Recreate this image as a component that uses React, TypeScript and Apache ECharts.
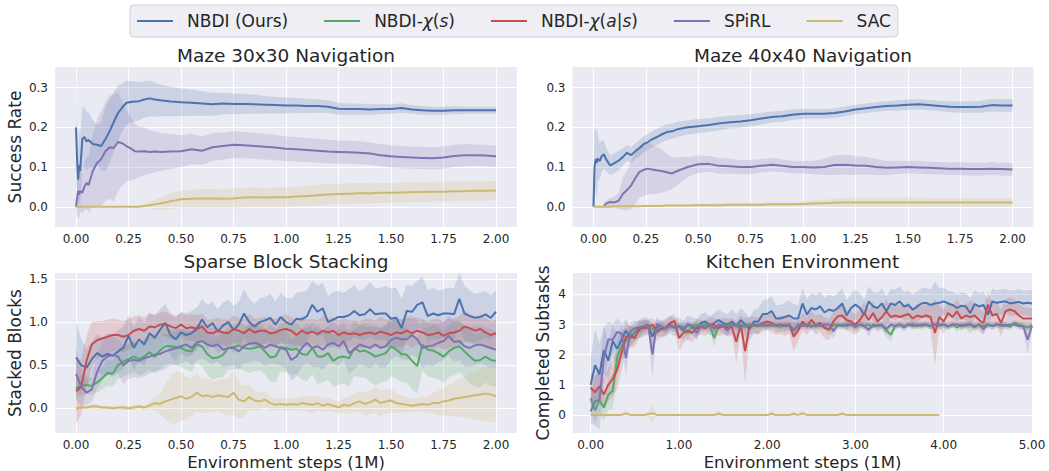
import React, { useEffect, useRef } from 'react';
import * as echarts from 'echarts';

// ---------- names / colours ----------
const SERIES_NAMES = ['NBDI (Ours)', 'NBDI-χ(s)', 'NBDI-χ(a|s)', 'SPiRL', 'SAC'];
const SERIES_COLORS = ['#4C72B0', '#55A868', '#C44E52', '#8172B2', '#CCB974'];
const TITLES = ['Maze 30x30 Navigation', 'Maze 40x40 Navigation', 'Sparse Block Stacking', 'Kitchen Environment'];
const Y_NAMES = ['Success Rate', '', 'Stacked Blocks', 'Completed Subtasks'];
const X_NAME = 'Environment steps (1M)';

// ---------- tick labels ----------
const mazeXTicks = [0, 0.25, 0.5, 0.75, 1.0, 1.25, 1.5, 1.75, 2.0];
const mazeYTicks = [0, 0.1, 0.2, 0.3];
const blockXTicks = [0, 0.25, 0.5, 0.75, 1.0, 1.25, 1.5, 1.75, 2.0];
const blockYTicks = [0, 0.5, 1.0, 1.5];
const kitchenXTicks = [0, 1, 2, 3, 4, 5];
const kitchenYTicks = [0, 1, 2, 3, 4];

// ---------- Maze (x in 1M steps) ----------
const mazeX = [0, 0.005, 0.01, 0.015, 0.02, 0.03, 0.04, 0.05, 0.06, 0.08,
  0.1, 0.12, 0.14, 0.16, 0.18, 0.2, 0.22, 0.24, 0.26, 0.28,
  0.3, 0.325, 0.35, 0.375, 0.4, 0.45, 0.5, 0.55, 0.6, 0.65,
  0.7, 0.75, 0.8, 0.85, 0.9, 0.95, 1.0, 1.05, 1.1, 1.15,
  1.2, 1.25, 1.3, 1.35, 1.4, 1.45, 1.5, 1.55, 1.6, 1.65,
  1.7, 1.75, 1.8, 1.85, 1.9, 1.95, 2.0];

const maze30Nbdi = [0.200, 0.120, 0.068, 0.105, 0.090, 0.170, 0.176, 0.165, 0.168, 0.158,
  0.156, 0.153, 0.170, 0.190, 0.214, 0.236, 0.250, 0.262, 0.264, 0.265,
  0.266, 0.270, 0.273, 0.270, 0.268, 0.265, 0.263, 0.262, 0.260, 0.258,
  0.260, 0.259, 0.259, 0.258, 0.257, 0.256, 0.255, 0.255, 0.254, 0.254,
  0.252, 0.247, 0.246, 0.246, 0.245, 0.246, 0.246, 0.249, 0.245, 0.243,
  0.242, 0.242, 0.243, 0.243, 0.243, 0.243, 0.243];
const maze30NbdiSpread = [0.135, 0.08, 0.07, 0.09, 0.09, 0.08, 0.075, 0.075, 0.07, 0.06,
  0.05, 0.06, 0.08, 0.08, 0.075, 0.07, 0.06, 0.055, 0.052, 0.05,
  0.048, 0.046, 0.045, 0.043, 0.04, 0.037, 0.035, 0.033, 0.031, 0.029,
  0.027, 0.026, 0.025, 0.024, 0.022, 0.021, 0.02, 0.019, 0.018, 0.017,
  0.016, 0.015, 0.014, 0.014, 0.013, 0.013, 0.012, 0.012, 0.011, 0.011,
  0.01, 0.01, 0.01, 0.009, 0.009, 0.009, 0.009];
const maze30Spirl = [0.0, 0.02, 0.04, 0.03, 0.04, 0.035, 0.05, 0.06, 0.055, 0.09,
  0.11, 0.12, 0.14, 0.15, 0.148, 0.163, 0.16, 0.153, 0.147, 0.14,
  0.139, 0.14, 0.138, 0.139, 0.138, 0.139, 0.14, 0.145, 0.141, 0.15,
  0.153, 0.156, 0.155, 0.153, 0.151, 0.149, 0.146, 0.145, 0.143, 0.141,
  0.139, 0.138, 0.137, 0.136, 0.134, 0.13, 0.127, 0.125, 0.124, 0.123,
  0.122, 0.124, 0.128, 0.13, 0.13, 0.129, 0.127];
const maze30SpirlSpread = [0.0, 0.05, 0.06, 0.06, 0.055, 0.05, 0.06, 0.065, 0.07, 0.09,
  0.11, 0.12, 0.125, 0.13, 0.135, 0.125, 0.105, 0.09, 0.08, 0.07,
  0.064, 0.06, 0.055, 0.052, 0.048, 0.044, 0.04, 0.038, 0.036, 0.035,
  0.034, 0.034, 0.033, 0.033, 0.032, 0.032, 0.031, 0.031, 0.03, 0.03,
  0.03, 0.029, 0.029, 0.029, 0.028, 0.028, 0.028, 0.028, 0.028, 0.028,
  0.028, 0.028, 0.028, 0.028, 0.027, 0.027, 0.027];
const maze30Sac = [0, 0, 0, 0, 0, 0, 0, 0, 0, 0,
  0, 0, 0, 0, 0, 0, 0, 0, 0, 0,
  0, 0.002, 0.004, 0.006, 0.008, 0.014, 0.019, 0.02, 0.021, 0.021,
  0.02, 0.021, 0.023, 0.024, 0.023, 0.024, 0.024, 0.026, 0.027, 0.029,
  0.031, 0.032, 0.033, 0.034, 0.034, 0.035, 0.035, 0.036, 0.037, 0.037,
  0.038, 0.038, 0.039, 0.039, 0.04, 0.04, 0.041];
const maze30SacSpread = [0, 0, 0, 0, 0, 0, 0, 0, 0, 0,
  0, 0, 0, 0, 0, 0, 0, 0, 0, 0,
  0, 0.004, 0.008, 0.012, 0.016, 0.02, 0.022, 0.023, 0.024, 0.024,
  0.024, 0.025, 0.025, 0.025, 0.025, 0.025, 0.025, 0.025, 0.026, 0.026,
  0.026, 0.026, 0.026, 0.026, 0.025, 0.025, 0.025, 0.025, 0.025, 0.025,
  0.025, 0.025, 0.025, 0.025, 0.024, 0.024, 0.024];

const maze40Nbdi = [0.0, 0.1, 0.12, 0.11, 0.122, 0.115, 0.128, 0.132, 0.12, 0.104,
  0.11, 0.116, 0.125, 0.136, 0.13, 0.14, 0.148, 0.158, 0.163, 0.17,
  0.175, 0.182, 0.188, 0.19, 0.195, 0.2, 0.203, 0.206, 0.21, 0.213,
  0.215, 0.218, 0.222, 0.226, 0.228, 0.232, 0.234, 0.234, 0.234, 0.236,
  0.24, 0.245, 0.248, 0.251, 0.254, 0.255, 0.257, 0.258, 0.256, 0.254,
  0.252, 0.251, 0.251, 0.252, 0.256, 0.255, 0.255];
const maze40NbdiSpread = [0.0, 0.1, 0.07, 0.09, 0.06, 0.045, 0.04, 0.035, 0.03, 0.025,
  0.025, 0.025, 0.022, 0.02, 0.02, 0.02, 0.02, 0.02, 0.02, 0.02,
  0.02, 0.02, 0.02, 0.019, 0.019, 0.018, 0.018, 0.017, 0.017, 0.016,
  0.016, 0.015, 0.015, 0.014, 0.014, 0.013, 0.013, 0.012, 0.012, 0.012,
  0.012, 0.012, 0.012, 0.012, 0.012, 0.013, 0.013, 0.013, 0.013, 0.013,
  0.014, 0.014, 0.014, 0.015, 0.016, 0.016, 0.016];
const maze40Spirl = [null, null, null, null, null, null, null, 0.002, 0.008, 0.012,
  0.011, 0.015, 0.032, 0.042, 0.054, 0.072, 0.088, 0.093, 0.096, 0.094,
  0.092, 0.09, 0.087, 0.084, 0.09, 0.1, 0.107, 0.108, 0.103, 0.102,
  0.1, 0.1, 0.103, 0.106, 0.103, 0.1, 0.1, 0.099, 0.1, 0.105,
  0.106, 0.104, 0.103, 0.1, 0.098, 0.099, 0.1, 0.099, 0.098, 0.097,
  0.096, 0.096, 0.095, 0.095, 0.096, 0.095, 0.094];
const maze40SpirlSpread = [0, 0, 0, 0, 0, 0, 0, 0.005, 0.008, 0.01,
  0.015, 0.02, 0.04, 0.05, 0.06, 0.065, 0.065, 0.065, 0.065, 0.062,
  0.06, 0.055, 0.048, 0.04, 0.035, 0.025, 0.022, 0.02, 0.02, 0.019,
  0.018, 0.018, 0.017, 0.017, 0.016, 0.016, 0.016, 0.017, 0.02, 0.025,
  0.025, 0.024, 0.022, 0.02, 0.018, 0.017, 0.016, 0.016, 0.016, 0.016,
  0.016, 0.016, 0.016, 0.016, 0.016, 0.016, 0.016];
const maze40Sac = [0, 0, 0, 0, 0, 0, 0, 0, 0, 0,
  0.001, 0.001, 0.001, 0.001, 0.001, 0.001, 0.001, 0.002, 0.002, 0.002,
  0.002, 0.002, 0.003, 0.003, 0.003, 0.003, 0.004, 0.004, 0.004, 0.005,
  0.005, 0.005, 0.005, 0.006, 0.006, 0.006, 0.007, 0.008, 0.009, 0.01,
  0.011, 0.011, 0.011, 0.011, 0.011, 0.011, 0.011, 0.011, 0.011, 0.011,
  0.011, 0.011, 0.011, 0.011, 0.011, 0.011, 0.011];
const maze40SacSpread = [0, 0, 0, 0, 0, 0, 0, 0, 0, 0,
  0.001, 0.001, 0.001, 0.002, 0.002, 0.002, 0.002, 0.003, 0.003, 0.003,
  0.003, 0.003, 0.004, 0.004, 0.004, 0.004, 0.004, 0.004, 0.005, 0.005,
  0.005, 0.005, 0.005, 0.005, 0.005, 0.005, 0.006, 0.007, 0.008, 0.01,
  0.011, 0.012, 0.012, 0.012, 0.012, 0.012, 0.012, 0.012, 0.011, 0.011,
  0.011, 0.011, 0.011, 0.011, 0.011, 0.011, 0.011];

// ---------- Sparse block stacking (x step 0.025) ----------
const blockX = Array.from({ length: 81 }, (_, i) => +(i * 0.025).toFixed(3));
const blockNbdi = [0.59, 0.5, 0.47, 0.57, 0.64, 0.6, 0.63, 0.61, 0.66, 0.7,
  0.84, 0.7, 0.8, 0.74, 0.87, 0.82, 0.91, 0.99, 0.85, 0.8,
  0.88, 0.85, 0.87, 0.92, 1.03, 0.94, 0.99, 0.89, 0.96, 1.0,
  0.91, 0.97, 1.1, 1.0, 0.95, 1.0, 1.02, 1.05, 0.97, 1.06,
  1.0, 0.97, 1.04, 1.03, 1.07, 1.2, 1.12, 1.16, 1.0, 1.03,
  1.06, 1.06, 1.08, 1.13, 1.08, 1.09, 1.15, 1.09, 1.1, 1.1,
  1.04, 1.05, 0.93, 1.13, 1.12, 1.2, 1.23, 1.07, 1.1, 1.08,
  1.1, 1.1, 1.09, 1.27, 1.1, 1.07, 1.05, 1.06, 1.09, 1.05,
  1.12];
const blockNbdiSpread = [0.42, 0.3, 0.22, 0.2, 0.22, 0.22, 0.24, 0.25, 0.24, 0.25,
  0.24, 0.25, 0.26, 0.25, 0.24, 0.25, 0.24, 0.22, 0.24, 0.25,
  0.24, 0.25, 0.26, 0.25, 0.24, 0.26, 0.25, 0.26, 0.27, 0.26,
  0.28, 0.27, 0.28, 0.27, 0.26, 0.28, 0.27, 0.28, 0.27, 0.28,
  0.28, 0.3, 0.3, 0.32, 0.3, 0.28, 0.3, 0.3, 0.3, 0.32,
  0.3, 0.28, 0.3, 0.3, 0.28, 0.3, 0.32, 0.3, 0.3, 0.32,
  0.35, 0.35, 0.34, 0.3, 0.3, 0.28, 0.3, 0.3, 0.3, 0.28,
  0.28, 0.3, 0.3, 0.3, 0.32, 0.3, 0.28, 0.28, 0.27, 0.26,
  0.25];
const blockChiS = [0.23, 0.26, 0.27, 0.26, 0.3, 0.35, 0.41, 0.4, 0.5, 0.54,
  0.57, 0.6, 0.57, 0.6, 0.65, 0.6, 0.67, 0.72, 0.72, 0.71,
  0.7, 0.67, 0.66, 0.74, 0.72, 0.63, 0.58, 0.59, 0.62, 0.7,
  0.71, 0.73, 0.7, 0.69, 0.7, 0.72, 0.66, 0.59, 0.6, 0.71,
  0.7, 0.68, 0.69, 0.63, 0.62, 0.7, 0.6, 0.6, 0.64, 0.55,
  0.59, 0.6, 0.58, 0.7, 0.66, 0.67, 0.64, 0.6, 0.62, 0.64,
  0.72, 0.68, 0.63, 0.62, 0.55, 0.49, 0.74, 0.68, 0.67, 0.64,
  0.6, 0.66, 0.7, 0.72, 0.66, 0.6, 0.55, 0.56, 0.6, 0.56,
  0.55];
const blockChiSSpread = [0.12, 0.12, 0.1, 0.1, 0.12, 0.13, 0.15, 0.15, 0.16, 0.17,
  0.18, 0.18, 0.19, 0.2, 0.2, 0.2, 0.21, 0.22, 0.2, 0.21,
  0.22, 0.22, 0.24, 0.22, 0.23, 0.24, 0.25, 0.24, 0.26, 0.25,
  0.26, 0.27, 0.26, 0.28, 0.27, 0.28, 0.27, 0.28, 0.3, 0.28,
  0.28, 0.3, 0.29, 0.3, 0.31, 0.3, 0.32, 0.3, 0.31, 0.3,
  0.32, 0.31, 0.33, 0.32, 0.3, 0.32, 0.33, 0.34, 0.32, 0.33,
  0.35, 0.34, 0.33, 0.32, 0.33, 0.32, 0.3, 0.31, 0.32, 0.3,
  0.31, 0.3, 0.32, 0.3, 0.3, 0.31, 0.3, 0.32, 0.3, 0.3,
  0.3];
const blockChiAS = [0.2, 0.25, 0.55, 0.74, 0.79, 0.81, 0.83, 0.85, 0.85, 0.83,
  0.85, 0.9, 0.92, 0.9, 0.95, 0.94, 0.97, 0.98, 0.95, 0.93,
  0.97, 0.93, 0.94, 0.92, 0.95, 0.88, 0.87, 0.9, 0.88, 0.87,
  0.92, 0.9, 0.87, 0.92, 0.88, 0.9, 0.9, 0.87, 0.88, 0.91,
  0.92, 0.9, 0.85, 0.9, 0.87, 0.89, 0.86, 0.9, 0.88, 0.9,
  0.85, 0.88, 0.86, 0.87, 0.85, 0.87, 0.88, 0.86, 0.89, 0.87,
  0.85, 0.88, 0.87, 0.9, 0.87, 0.9, 0.88, 0.85, 0.86, 0.88,
  0.84, 0.87, 0.88, 0.9, 0.95, 0.93, 0.9, 0.92, 0.88, 0.85,
  0.87];
const blockChiASSpread = [0.38, 0.32, 0.3, 0.26, 0.22, 0.2, 0.2, 0.19, 0.18, 0.18,
  0.18, 0.17, 0.16, 0.16, 0.15, 0.15, 0.14, 0.14, 0.15, 0.14,
  0.14, 0.15, 0.15, 0.16, 0.15, 0.15, 0.16, 0.15, 0.15, 0.16,
  0.16, 0.15, 0.16, 0.17, 0.16, 0.15, 0.16, 0.17, 0.16, 0.16,
  0.17, 0.16, 0.16, 0.17, 0.16, 0.15, 0.16, 0.17, 0.16, 0.16,
  0.17, 0.16, 0.16, 0.15, 0.16, 0.17, 0.16, 0.16, 0.17, 0.16,
  0.16, 0.17, 0.16, 0.16, 0.17, 0.16, 0.15, 0.16, 0.17, 0.16,
  0.16, 0.17, 0.16, 0.17, 0.18, 0.17, 0.16, 0.17, 0.17, 0.16,
  0.16];
const blockSpirl = [0.4, 0.25, 0.18, 0.22, 0.42, 0.55, 0.6, 0.62, 0.6, 0.5,
  0.55, 0.56, 0.55, 0.58, 0.6, 0.62, 0.63, 0.66, 0.68, 0.7,
  0.72, 0.74, 0.7, 0.76, 0.78, 0.74, 0.72, 0.74, 0.68, 0.7,
  0.7, 0.66, 0.72, 0.75, 0.76, 0.74, 0.7, 0.74, 0.72, 0.7,
  0.68, 0.56, 0.6, 0.7, 0.76, 0.7, 0.72, 0.68, 0.74, 0.76,
  0.72, 0.78, 0.64, 0.68, 0.74, 0.72, 0.7, 0.74, 0.7, 0.72,
  0.79, 0.82, 0.8, 0.8, 0.85, 0.8, 0.7, 0.72, 0.73, 0.76,
  0.78, 0.84, 0.77, 0.78, 0.72, 0.7, 0.73, 0.74, 0.72, 0.7,
  0.68];
const blockSpirlSpread = [0.3, 0.22, 0.14, 0.15, 0.2, 0.22, 0.22, 0.21, 0.2, 0.22,
  0.21, 0.2, 0.2, 0.21, 0.2, 0.19, 0.2, 0.2, 0.19, 0.2,
  0.2, 0.19, 0.2, 0.21, 0.2, 0.2, 0.21, 0.2, 0.2, 0.21,
  0.2, 0.21, 0.2, 0.22, 0.21, 0.2, 0.21, 0.22, 0.21, 0.2,
  0.22, 0.24, 0.23, 0.22, 0.23, 0.22, 0.24, 0.23, 0.22, 0.24,
  0.23, 0.22, 0.24, 0.23, 0.22, 0.23, 0.24, 0.22, 0.23, 0.24,
  0.23, 0.22, 0.23, 0.24, 0.23, 0.22, 0.23, 0.22, 0.24, 0.23,
  0.22, 0.23, 0.24, 0.22, 0.23, 0.22, 0.23, 0.22, 0.22, 0.23,
  0.22];
const blockSac = [0.0, 0.01, 0.01, 0.02, 0.02, 0.01, 0.01, 0.0, 0.01, 0.01,
  0.0, 0.01, 0.02, 0.01, 0.03, 0.06, 0.05, 0.08, 0.1, 0.12,
  0.14, 0.11, 0.13, 0.18, 0.14, 0.15, 0.13, 0.15, 0.14, 0.13,
  0.18, 0.1, 0.08, 0.13, 0.09, 0.08, 0.1, 0.06, 0.04, 0.05,
  0.04, 0.05, 0.04, 0.06, 0.05, 0.04, 0.06, 0.03, 0.05, 0.03,
  0.01, 0.04, 0.03, 0.06, 0.08, 0.05, 0.07, 0.1, 0.06, 0.08,
  0.09, 0.06, 0.05, 0.04, 0.03, 0.04, 0.05, 0.04, 0.06, 0.06,
  0.08, 0.09, 0.11, 0.12, 0.13, 0.14, 0.15, 0.16, 0.17, 0.16,
  0.14];
const blockSacSpread = [0.02, 0.02, 0.02, 0.03, 0.03, 0.02, 0.02, 0.02, 0.02, 0.03,
  0.02, 0.03, 0.03, 0.03, 0.04, 0.08, 0.12, 0.2, 0.28, 0.3,
  0.28, 0.25, 0.22, 0.22, 0.2, 0.2, 0.18, 0.18, 0.2, 0.22,
  0.26, 0.22, 0.18, 0.15, 0.12, 0.1, 0.1, 0.08, 0.07, 0.07,
  0.07, 0.07, 0.08, 0.08, 0.09, 0.1, 0.09, 0.08, 0.08, 0.07,
  0.07, 0.08, 0.1, 0.11, 0.12, 0.13, 0.14, 0.15, 0.15, 0.14,
  0.14, 0.12, 0.1, 0.09, 0.08, 0.08, 0.08, 0.1, 0.12, 0.14,
  0.16, 0.18, 0.2, 0.22, 0.24, 0.26, 0.28, 0.3, 0.32, 0.32,
  0.3];

// ---------- Kitchen (x step 0.05) ----------
const kitchenX = Array.from({ length: 101 }, (_, i) => +(i * 0.05).toFixed(2));
const kitchenNbdi = [1.0, 1.65, 1.35, 2.15, 1.8, 2.45, 2.2, 2.5, 2.8, 2.55,
  2.75, 2.85, 2.95, 2.98, 2.6, 2.95, 2.85, 2.9, 3.0, 2.9,
  2.95, 2.8, 3.0, 2.95, 2.85, 3.05, 3.1, 2.95, 3.05, 3.15,
  3.05, 3.0, 3.1, 2.95, 3.15, 3.0, 2.85, 3.1, 3.1, 3.35,
  3.35, 3.45, 3.2, 3.2, 3.25, 3.3, 3.2, 3.2, 3.7, 3.33,
  3.55, 3.5, 3.6, 3.4, 3.5, 3.45, 3.55, 3.7, 3.3, 3.55,
  3.66, 3.55, 3.33, 3.77, 3.6, 3.55, 3.7, 3.44, 3.7, 3.65,
  3.77, 3.6, 3.65, 3.49, 3.6, 3.7, 3.72, 3.65, 3.7, 3.72,
  3.77, 3.7, 3.65, 3.55, 3.62, 3.6, 3.38, 3.68, 3.6, 3.65,
  3.33, 3.77, 3.72, 3.75, 3.77, 3.7, 3.72, 3.75, 3.7, 3.72,
  3.7];
const kitchenNbdiSpread = [0.9, 1.2, 1.0, 0.8, 0.6, 0.55, 0.5, 0.45, 0.4, 0.35,
  0.3, 0.3, 0.28, 0.25, 0.3, 0.28, 0.28, 0.3, 0.28, 0.3,
  0.3, 0.32, 0.3, 0.3, 0.32, 0.3, 0.3, 0.32, 0.33, 0.35,
  0.35, 0.35, 0.4, 0.38, 0.4, 0.4, 0.38, 0.4, 0.42, 0.45,
  0.5, 0.48, 0.45, 0.45, 0.48, 0.5, 0.48, 0.45, 0.5, 0.5,
  0.5, 0.48, 0.5, 0.5, 0.5, 0.48, 0.5, 0.5, 0.5, 0.48,
  0.5, 0.48, 0.5, 0.5, 0.48, 0.5, 0.5, 0.5, 0.48, 0.5,
  0.5, 0.48, 0.48, 0.5, 0.5, 0.5, 0.5, 0.5, 0.72, 0.5,
  0.45, 0.42, 0.45, 0.45, 0.45, 0.45, 0.5, 0.45, 0.45, 0.45,
  0.5, 0.42, 0.42, 0.42, 0.42, 0.42, 0.42, 0.42, 0.42, 0.42,
  0.45];
const kitchenChiS = [0.55, 0.15, 0.48, 0.25, 0.67, 0.8, 1.9, 2.3, 2.48, 2.65,
  2.72, 2.8, 2.94, 2.98, 2.85, 2.83, 2.92, 2.88, 2.95, 2.9,
  2.95, 2.9, 2.72, 2.95, 3.0, 2.95, 3.0, 2.95, 2.55, 2.95,
  3.0, 2.95, 3.0, 2.95, 3.0, 2.9, 3.0, 2.95, 3.0, 2.95,
  3.0, 2.95, 3.0, 2.92, 3.0, 2.95, 2.85, 2.9, 3.0, 2.95,
  3.0, 2.92, 3.0, 2.95, 2.83, 3.0, 2.95, 3.0, 2.95, 3.0,
  2.9, 3.0, 2.95, 3.0, 2.92, 3.0, 2.95, 2.8, 2.66, 2.95,
  3.0, 2.95, 3.0, 2.95, 3.0, 2.95, 3.0, 2.95, 3.0, 2.95,
  3.0, 2.92, 3.0, 2.9, 3.0, 2.95, 3.0, 2.9, 3.0, 2.95,
  3.0, 2.95, 3.0, 2.95, 3.0, 2.92, 3.05, 3.0, 2.95, 2.9,
  2.98];
const kitchenChiSSpread = [0.45, 0.45, 0.4, 0.45, 0.5, 0.6, 0.6, 0.5, 0.4, 0.3,
  0.25, 0.22, 0.2, 0.15, 0.2, 0.18, 0.15, 0.15, 0.12, 0.15,
  0.12, 0.15, 0.25, 0.12, 0.1, 0.12, 0.1, 0.12, 0.3, 0.12,
  0.1, 0.12, 0.1, 0.12, 0.1, 0.15, 0.1, 0.12, 0.1, 0.12,
  0.1, 0.12, 0.1, 0.12, 0.1, 0.12, 0.2, 0.15, 0.1, 0.12,
  0.1, 0.12, 0.1, 0.12, 0.18, 0.1, 0.12, 0.1, 0.12, 0.1,
  0.15, 0.1, 0.12, 0.1, 0.12, 0.1, 0.12, 0.2, 0.25, 0.12,
  0.1, 0.12, 0.1, 0.12, 0.1, 0.12, 0.1, 0.12, 0.1, 0.12,
  0.1, 0.12, 0.1, 0.15, 0.1, 0.12, 0.1, 0.15, 0.1, 0.12,
  0.1, 0.12, 0.1, 0.12, 0.1, 0.12, 0.1, 0.1, 0.12, 0.15,
  0.1];
const kitchenChiAS = [0.9, 0.75, 0.95, 0.68, 1.0, 1.2, 1.5, 2.05, 2.6, 2.62,
  2.55, 2.85, 2.88, 2.9, 3.0, 2.75, 2.85, 2.88, 3.05, 3.12,
  2.55, 2.72, 2.8, 2.72, 2.9, 2.92, 2.88, 3.0, 2.98, 2.88,
  2.95, 2.9, 2.92, 2.42, 3.0, 2.12, 2.95, 3.0, 2.95, 3.05,
  3.1, 3.05, 2.95, 3.0, 2.95, 3.0, 2.6, 2.8, 3.1, 2.94,
  3.16, 2.98, 3.05, 2.88, 2.83, 3.1, 3.27, 3.3, 3.15, 3.1,
  3.0, 3.15, 3.38, 3.15, 3.38, 3.1, 3.25, 3.44, 3.25, 3.3,
  3.25, 3.3, 3.35, 3.2, 3.3, 3.25, 3.3, 3.25, 2.72, 3.25,
  3.1, 3.38, 3.25, 3.44, 3.2, 3.3, 3.25, 3.3, 3.15, 3.05,
  3.66, 3.3, 3.35, 3.05, 3.44, 3.5, 3.45, 3.3, 3.2, 3.2,
  3.2];
const kitchenChiASSpread = [0.5, 0.55, 0.55, 0.5, 0.55, 0.6, 0.65, 0.6, 0.45, 0.35,
  0.3, 0.3, 0.28, 0.25, 0.22, 0.3, 0.25, 0.25, 0.25, 0.22,
  0.45, 0.35, 0.3, 0.3, 0.28, 0.25, 0.25, 0.25, 0.25, 0.28,
  0.28, 0.3, 0.3, 0.7, 0.3, 1.1, 0.3, 0.28, 0.28, 0.28,
  0.3, 0.3, 0.3, 0.3, 0.32, 0.3, 0.5, 0.35, 0.3, 0.3,
  0.3, 0.32, 0.3, 0.35, 0.35, 0.32, 0.35, 0.4, 0.35, 0.35,
  0.35, 0.35, 0.38, 0.35, 0.38, 0.35, 0.38, 0.4, 0.35, 0.38,
  0.38, 0.35, 0.38, 0.35, 0.38, 0.35, 0.38, 0.38, 1.1, 0.38,
  0.4, 0.4, 0.38, 0.4, 0.4, 0.38, 0.55, 0.4, 0.38, 0.38,
  0.45, 0.4, 0.4, 0.45, 0.4, 0.4, 0.4, 0.4, 0.38, 0.35,
  0.35];
const kitchenSpirl = [0.12, 0.45, 0.5, 1.9, 2.5, 2.5, 2.75, 2.7, 1.89, 2.77,
  2.88, 2.9, 2.94, 3.0, 2.0, 3.02, 2.95, 2.85, 2.95, 2.9,
  2.95, 2.85, 3.0, 2.95, 2.72, 2.95, 2.9, 3.0, 2.85, 3.0,
  2.95, 2.8, 3.0, 2.95, 2.9, 3.0, 2.95, 3.0, 2.98, 3.0,
  2.95, 3.0, 2.98, 3.0, 2.95, 3.0, 2.8, 3.0, 2.95, 3.0,
  2.92, 3.0, 2.95, 3.0, 3.0, 2.78, 3.0, 2.95, 3.0, 3.0,
  2.95, 3.0, 2.95, 2.82, 3.0, 2.95, 3.0, 2.85, 3.0, 2.95,
  3.0, 2.9, 3.0, 3.0, 2.95, 3.0, 3.0, 2.95, 3.0, 3.0,
  3.0, 2.95, 3.0, 3.0, 2.95, 3.0, 3.0, 2.95, 3.0, 2.85,
  3.0, 2.95, 3.0, 3.0, 2.95, 3.0, 3.0, 2.95, 2.95, 2.5,
  2.95];
const kitchenSpirlSpread = [0.4, 0.8, 1.0, 1.0, 0.6, 0.5, 0.45, 0.35, 0.6, 0.3,
  0.25, 0.2, 0.18, 0.15, 0.8, 0.15, 0.15, 0.15, 0.12, 0.15,
  0.12, 0.15, 0.1, 0.12, 0.25, 0.12, 0.12, 0.1, 0.15, 0.1,
  0.12, 0.2, 0.1, 0.12, 0.12, 0.1, 0.12, 0.1, 0.1, 0.1,
  0.12, 0.1, 0.1, 0.1, 0.12, 0.1, 0.25, 0.1, 0.12, 0.1,
  0.12, 0.1, 0.12, 0.1, 0.1, 0.28, 0.1, 0.12, 0.1, 0.1,
  0.12, 0.1, 0.12, 0.25, 0.1, 0.12, 0.1, 0.2, 0.1, 0.12,
  0.1, 0.15, 0.1, 0.1, 0.12, 0.1, 0.1, 0.12, 0.1, 0.1,
  0.1, 0.12, 0.1, 0.1, 0.12, 0.1, 0.1, 0.12, 0.1, 0.2,
  0.1, 0.12, 0.1, 0.1, 0.12, 0.1, 0.1, 0.12, 0.12, 0.5,
  0.12];
const kitchenSac = [0, 0, 0, 0, 0, 0, 0, 0, 0.05, 0,
  0, 0, 0, 0.02, 0.06, 0, 0, 0, 0, 0,
  0, 0, 0, 0, 0, 0, 0, 0, 0, 0.04,
  0, 0, 0, 0, 0, 0, 0, 0, 0, 0,
  0, 0.04, 0, 0, 0, 0, 0.04, 0, 0.05, 0,
  0, 0, 0, 0, 0, 0, 0, 0.04, 0, 0,
  0, 0, 0, 0, 0, 0, 0, 0, 0, 0,
  0, 0, 0, 0, 0, 0, 0, 0, 0, 0];
const kitchenSacSpread = [0, 0, 0, 0, 0, 0, 0, 0, 0.12, 0,
  0, 0, 0, 0.08, 0.3, 0, 0, 0, 0, 0,
  0, 0, 0, 0, 0, 0, 0, 0, 0, 0.12,
  0, 0, 0, 0, 0, 0, 0, 0, 0, 0,
  0, 0.12, 0, 0, 0, 0, 0.1, 0, 0.12, 0,
  0, 0, 0, 0, 0, 0, 0, 0.1, 0, 0,
  0, 0, 0, 0, 0, 0, 0, 0, 0, 0,
  0, 0, 0, 0, 0, 0, 0, 0, 0, 0];

// ---------- styling ----------
const FONT = 'DejaVu Sans';
const TXT = '#262626';
const BG = '#EAEAF2';

const LEGEND_RICH_LABELS: Record<string, string> = {
  'NBDI (Ours)': '{p|NBDI (Ours)}',
  'NBDI-χ(s)': '{p|NBDI-}{i|χ}{t|(}{i|s}{t|)}',
  'NBDI-χ(a|s)': '{p|NBDI-}{i|χ}{t|(}{i|a}{t||}{i|s}{t|)}',
  'SPiRL': '{p|SPiRL}',
  'SAC': '{p|SAC}',
};

function rgba(hex: string, a: number) {
  const n = parseInt(hex.slice(1), 16);
  return `rgba(${(n >> 16) & 255},${(n >> 8) & 255},${n & 255},${a})`;
}

function lineSeries(k: number, g: number, xs: number[], ys: (number | null)[]) {
  const data: number[][] = [];
  ys.forEach((y, i) => { if (y !== null) data.push([xs[i], y]); });
  return {
    type: 'line', name: SERIES_NAMES[k], color: SERIES_COLORS[k],
    xAxisIndex: g, yAxisIndex: g, data, showSymbol: false, symbol: 'none',
    lineStyle: { width: 2, color: SERIES_COLORS[k] }, z: 3, silent: true,
  };
}

function bandSeries(k: number, g: number, xs: number[], ys: (number | null)[], sp: number[]) {
  const pts: number[][] = [];
  ys.forEach((y, i) => { if (y !== null) pts.push([xs[i], y - sp[i], y + sp[i]]); });
  const fill = rgba(SERIES_COLORS[k], 0.2);
  return {
    type: 'custom', xAxisIndex: g, yAxisIndex: g, data: pts, encode: { x: 0, y: [1, 2] },
    silent: true, z: 1,
    renderItem: (params: any, api: any) => {
      if (params.dataIndex !== 0) return null;
      const up = pts.map((p) => api.coord([p[0], p[2]]));
      const lo = pts.map((p) => api.coord([p[0], p[1]])).reverse();
      return { type: 'polygon', shape: { points: up.concat(lo) }, style: { fill, stroke: 'none' } };
    },
  };
}

function xAxis(g: number, min: number, max: number, ticks: number[], digits: number, name: string) {
  return {
    type: 'value', gridIndex: g, min, max,
    axisLine: { show: false },
    axisTick: { show: false, customValues: ticks },
    axisLabel: { customValues: ticks, formatter: (v: number) => v.toFixed(digits), fontSize: 12, color: TXT, fontFamily: FONT, margin: 5.5 },
    splitLine: { show: true, lineStyle: { color: '#ffffff', width: 1 } },
    name, nameLocation: 'middle', nameGap: 21, nameMoveOverlap: false,
    nameTextStyle: { fontSize: 16.5, color: TXT, fontFamily: FONT },
  };
}

function yAxis(g: number, min: number, max: number, ticks: number[], digits: number, name: string, gap: number) {
  return {
    type: 'value', gridIndex: g, min, max,
    axisLine: { show: false },
    axisTick: { show: false, customValues: ticks },
    axisLabel: { customValues: ticks, formatter: (v: number) => v.toFixed(digits), fontSize: 12, color: TXT, fontFamily: FONT, margin: 7 },
    splitLine: { show: true, lineStyle: { color: '#ffffff', width: 1 } },
    name, nameLocation: 'middle', nameGap: gap, nameMoveOverlap: false,
    nameTextStyle: { fontSize: 17, color: TXT, fontFamily: FONT },
  };
}

function buildOption() {
  const grids = [
    { left: 55, top: 67, width: 462, height: 160 },
    { left: 572.5, top: 67, width: 461, height: 160 },
    { left: 55, top: 273, width: 462, height: 160 },
    { left: 573, top: 273, width: 459, height: 160 },
  ].map((g) => ({ ...g, show: true, backgroundColor: BG, borderWidth: 0, containLabel: false, outerBoundsMode: 'none' }));

  const centers = [286, 803, 286, 802.5];
  const tops = [45.5, 45.5, 251.5, 251.5];
  const title = TITLES.map((t, i) => ({
    text: t, left: centers[i], top: tops[i], textAlign: 'center', padding: 0,
    textStyle: { fontSize: 18.5, fontWeight: 'normal', color: TXT, fontFamily: FONT },
  }));

  const series: any[] = [];
  // Maze 30
  series.push(bandSeries(0, 0, mazeX, maze30Nbdi, maze30NbdiSpread));
  series.push(bandSeries(3, 0, mazeX, maze30Spirl, maze30SpirlSpread));
  series.push(bandSeries(4, 0, mazeX, maze30Sac, maze30SacSpread));
  series.push(lineSeries(0, 0, mazeX, maze30Nbdi));
  series.push(lineSeries(3, 0, mazeX, maze30Spirl));
  series.push(lineSeries(4, 0, mazeX, maze30Sac));
  // Maze 40
  series.push(bandSeries(0, 1, mazeX, maze40Nbdi, maze40NbdiSpread));
  series.push(bandSeries(3, 1, mazeX, maze40Spirl, maze40SpirlSpread));
  series.push(bandSeries(4, 1, mazeX, maze40Sac, maze40SacSpread));
  series.push(lineSeries(0, 1, mazeX, maze40Nbdi));
  series.push(lineSeries(3, 1, mazeX, maze40Spirl));
  series.push(lineSeries(4, 1, mazeX, maze40Sac));
  // Block stacking
  series.push(bandSeries(0, 2, blockX, blockNbdi, blockNbdiSpread));
  series.push(bandSeries(1, 2, blockX, blockChiS, blockChiSSpread));
  series.push(bandSeries(2, 2, blockX, blockChiAS, blockChiASSpread));
  series.push(bandSeries(3, 2, blockX, blockSpirl, blockSpirlSpread));
  series.push(bandSeries(4, 2, blockX, blockSac, blockSacSpread));
  series.push(lineSeries(0, 2, blockX, blockNbdi));
  series.push(lineSeries(1, 2, blockX, blockChiS));
  series.push(lineSeries(2, 2, blockX, blockChiAS));
  series.push(lineSeries(3, 2, blockX, blockSpirl));
  series.push(lineSeries(4, 2, blockX, blockSac));
  // Kitchen
  series.push(bandSeries(0, 3, kitchenX, kitchenNbdi, kitchenNbdiSpread));
  series.push(bandSeries(1, 3, kitchenX, kitchenChiS, kitchenChiSSpread));
  series.push(bandSeries(2, 3, kitchenX, kitchenChiAS, kitchenChiASSpread));
  series.push(bandSeries(3, 3, kitchenX, kitchenSpirl, kitchenSpirlSpread));
  series.push(bandSeries(4, 3, kitchenX, kitchenSac, kitchenSacSpread));
  series.push(lineSeries(0, 3, kitchenX, kitchenNbdi));
  series.push(lineSeries(1, 3, kitchenX, kitchenChiS));
  series.push(lineSeries(2, 3, kitchenX, kitchenChiAS));
  series.push(lineSeries(3, 3, kitchenX, kitchenSpirl));
  series.push(lineSeries(4, 3, kitchenX, kitchenSac));

  return {
    animation: false,
    backgroundColor: '#ffffff',
    textStyle: { fontFamily: FONT, color: TXT },
    title,
    legend: {
      data: SERIES_NAMES, left: 130, top: 5, padding: [5, 7], itemWidth: 36, itemHeight: 2,
      icon: 'rect', itemGap: 36, selectedMode: false,
      backgroundColor: '#EEEEF4', borderColor: '#CFCFD4', borderWidth: 1, borderRadius: 4,
      formatter: (n: string) => LEGEND_RICH_LABELS[n] || n,
      textStyle: {
        fontSize: 17, color: TXT, fontFamily: FONT, lineHeight: 22,
        rich: {
          p: { fontSize: 17, color: TXT, fontFamily: FONT, padding: [0, 0, 0, 9], lineHeight: 22 },
          t: { fontSize: 17, color: TXT, fontFamily: FONT, lineHeight: 22 },
          i: { fontSize: 17, color: TXT, fontFamily: FONT, fontStyle: 'italic', lineHeight: 22 },
        },
      },
    },
    grid: grids,
    xAxis: [
      xAxis(0, -0.1, 2.1, mazeXTicks, 2, ''),
      xAxis(1, -0.1, 2.1, mazeXTicks, 2, ''),
      xAxis(2, -0.1, 2.1, blockXTicks, 2, X_NAME),
      xAxis(3, -0.2, 5.0, kitchenXTicks, 2, X_NAME),
    ],
    yAxis: [
      yAxis(0, -0.051, 0.352, mazeYTicks, 1, Y_NAMES[0], 31.5),
      yAxis(1, -0.051, 0.352, mazeYTicks, 1, Y_NAMES[1], 31.5),
      yAxis(2, -0.287, 1.57, blockYTicks, 1, Y_NAMES[2], 31.5),
      yAxis(3, -0.6, 4.71, kitchenYTicks, 0, Y_NAMES[3], 21.5),
    ],
    series,
  };
}

export default function App() {
  const ref = useRef<HTMLDivElement>(null);
  useEffect(() => {
    const chart = echarts.init(ref.current as HTMLDivElement, null, { renderer: 'svg' });
    chart.setOption(buildOption() as any);
    return () => chart.dispose();
  }, []);
  return <div ref={ref} style={{ position: 'absolute', left: 0, top: 0, width: 1049, height: 471, background: '#fff' }} />;
}
